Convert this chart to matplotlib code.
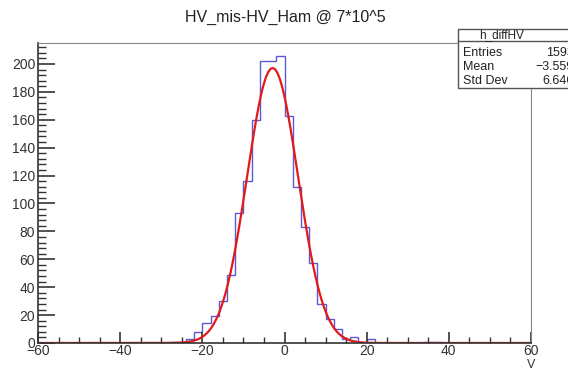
import numpy as np
import matplotlib
matplotlib.use("Agg")
import matplotlib.pyplot as plt
from matplotlib.ticker import MultipleLocator
from matplotlib.patches import Rectangle

plt.rcParams['font.family'] = ['Liberation Sans', 'DejaVu Sans']

# histogram h_diffHV: 60 bins of width 2 from -60 to 60
bin_edges = np.arange(-60, 62, 2)
counts = [0, 0, 0, 0, 0, 0, 0, 0, 0, 0,
          0, 0, 0, 0, 0, 0, 1, 1, 3, 8,
          14, 19, 30, 49, 93, 116, 160, 202, 202, 206,
          163, 112, 83, 57, 28, 17, 10, 3, 4, 0,
          3, 0, 0, 0, 0, 0, 0, 1, 1, 0,
          0, 0, 0, 0, 0, 0, 0, 0, 0, 0]

# gaussian fit parameters (constant, mean, sigma)
fit_const = 197.0
fit_mean = -2.9
fit_sigma = 6.2

title = "HV_mis-HV_Ham @ 7*10^5"
stats_name = "h_diffHV"
stats_labels = ["Entries", "Mean", "Std Dev"]
stats_values = ["1593", "\u22123.559", "6.646"]

fig = plt.figure(figsize=(5.68, 3.69), dpi=100)
W, H = 568, 369
ax = fig.add_axes([38 / W, 1 - 343 / H, (531 - 38) / W, (343 - 43) / H])

ax.stairs(counts, bin_edges, color='#5a5ad6', linewidth=1.0)

xs = np.linspace(-60, 60, 1200)
ys = fit_const * np.exp(-0.5 * ((xs - fit_mean) / fit_sigma) ** 2)
ax.plot(xs, ys, color='#e21a1a', linewidth=1.6)

ax.set_xlim(-60, 60)
ax.set_ylim(0, 215)

ax.xaxis.set_major_locator(MultipleLocator(20))
ax.xaxis.set_minor_locator(MultipleLocator(5))
ax.yaxis.set_major_locator(MultipleLocator(20))
ax.yaxis.set_minor_locator(MultipleLocator(4))
ax.tick_params(which='both', direction='in', top=False, right=False,
               colors='#333333', labelsize=10)
ax.tick_params(axis='y', which='major', length=12, width=1.2, pad=2)
ax.tick_params(axis='y', which='minor', length=6, width=1.0)
ax.tick_params(axis='x', which='major', length=8, width=1.2, pad=1)
ax.tick_params(axis='x', which='minor', length=4, width=1.0)
ax.set_xticks([-60, -40, -20, 0, 20, 40, 60])
ax.set_xticklabels(["\u221260", "\u221240", "\u221220", "0", "20", "40", "60"])

for s in ['top', 'right']:
    ax.spines[s].set_color('#888888')
for s in ['left', 'bottom']:
    ax.spines[s].set_color('#333333')
    ax.spines[s].set_linewidth(1.2)

# axis label at the right end, under the last tick label
fig.text(531 / W, 1 - 364.5 / H, "V", ha='center', va='center', fontsize=9,
         color='#333333')

fig.text(285 / W, 1 - 17 / H, title, ha='center', va='center', fontsize=11.5,
         color='#222222')

# stats box (runs off the right edge like the original)
box = Rectangle((458 / W, 1 - 88 / H), 130 / W, (88 - 29) / H,
                transform=fig.transFigure, facecolor='white',
                edgecolor='#555555', linewidth=1.0, zorder=5)
fig.add_artist(box)
fig.add_artist(plt.Line2D([458 / W, 1.0], [1 - 41 / H, 1 - 41 / H],
                          transform=fig.transFigure, color='#555555',
                          linewidth=1.0, zorder=6))
fig.text(502 / W, 1 - 35 / H, stats_name, ha='center', va='center',
         fontsize=8.5, color='#222222', zorder=7)
for i, (lab, val) in enumerate(zip(stats_labels, stats_values)):
    yy = 1 - (53 + 14 * i) / H
    fig.text(463 / W, yy, lab, ha='left', va='center', fontsize=9,
             color='#222222', zorder=7)
    fig.text(574 / W, yy, val, ha='right', va='center', fontsize=9,
             color='#222222', zorder=7)

fig.savefig("out.png", dpi=100)
